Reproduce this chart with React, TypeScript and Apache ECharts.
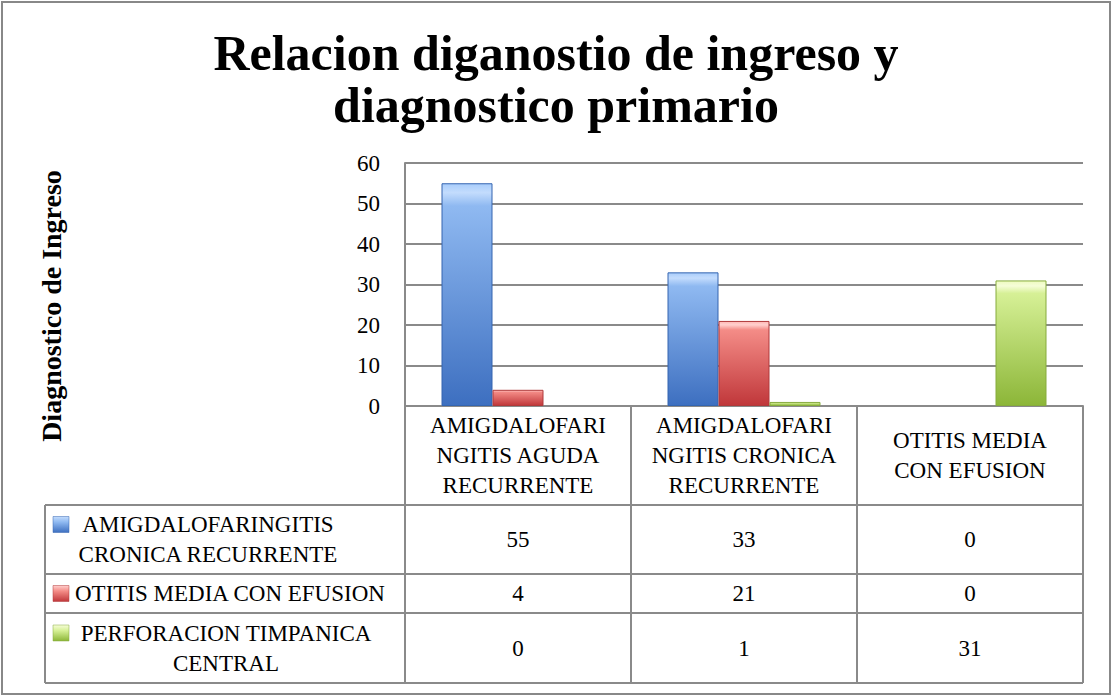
import React, { useEffect, useRef } from "react";
import * as echarts from "echarts";

const categories = [
  "AMIGDALOFARINGITIS AGUDA RECURRENTE",
  "AMIGDALOFARINGITIS CRONICA RECURRENTE",
  "OTITIS MEDIA CON EFUSION",
];
const categoryLabelLines = [
  "AMIGDALOFARI\nNGITIS AGUDA\nRECURRENTE",
  "AMIGDALOFARI\nNGITIS CRONICA\nRECURRENTE",
  "OTITIS MEDIA\nCON EFUSION",
];
const seriesNames = [
  "AMIGDALOFARINGITIS CRONICA RECURRENTE",
  "OTITIS MEDIA CON EFUSION",
  "PERFORACION TIMPANICA CENTRAL",
];
const seriesLabelLines = [
  "AMIGDALOFARINGITIS\nCRONICA RECURRENTE",
  "OTITIS MEDIA CON EFUSION",
  "PERFORACION TIMPANICA\nCENTRAL",
];
const cronicaValues = [55, 33, 0];
const otitisValues = [4, 21, 0];
const perforacionValues = [0, 1, 31];
const seriesValues = [cronicaValues, otitisValues, perforacionValues];
const yTicks = [0, 10, 20, 30, 40, 50, 60];

const titleText = "Relacion diganostio de ingreso y\ndiagnostico primario";
const yAxisTitle = "Diagnostico de Ingreso";

const FONT = "'Liberation Serif', 'Times New Roman', serif";
const GRID_COLOR = "#8a8a8a";

const gradients = [
  ["#a9cdfb", "#c3dcfd", "#8fb9f1", "#3d6fc0"],
  ["#ffb8b5", "#ffcfcd", "#f48c87", "#c0373a"],
  ["#eefbbf", "#f6fdd8", "#d6f096", "#8cb638"],
];
const borders = ["#3465b0", "#b0393a", "#86ab3c"];

function barColor(i: number) {
  const g = gradients[i];
  return new echarts.graphic.LinearGradient(0, 0, 0, 1, [
    { offset: 0, color: g[0] },
    { offset: 0.04, color: g[1] },
    { offset: 0.1, color: g[2] },
    { offset: 1, color: g[3] },
  ]);
}

// table layout
const TABLE_LEFT = 45;
const TABLE_RIGHT = 1083;
const AXIS_Y = 406;
const rowBounds = [505, 574, 613, 683];
const legendTextX = [208, 75, 226];
const legendAlign = ["center", "left", "center"];

export default function App() {
  const ref = useRef<HTMLDivElement>(null);

  useEffect(() => {
    if (!ref.current) return;
    const chart = echarts.init(ref.current, null, { renderer: "svg" });
    chart.setOption({
      animation: false,
      backgroundColor: "#ffffff",
      title: {
        text: titleText,
        left: "center",
        top: 22,
        textStyle: {
          fontFamily: FONT,
          fontWeight: "bold",
          fontSize: 50,
          lineHeight: 52,
          color: "#000",
        },
      },
      grid: { left: 405, right: 29, top: 163, bottom: 290, containLabel: false },
      xAxis: {
        type: "category",
        data: categories,
        axisLine: { show: true, lineStyle: { color: GRID_COLOR, width: 2 } },
        axisTick: {
          show: true,
          length: rowBounds[rowBounds.length - 1] - AXIS_Y,
          lineStyle: { color: GRID_COLOR, width: 2 },
        },
        axisLabel: {
          interval: 0,
          margin: 49,
          verticalAlign: "middle",
          lineHeight: 30,
          fontSize: 23,
          fontFamily: FONT,
          color: "#000",
          formatter: (_v: string, idx: number) => categoryLabelLines[idx],
        },
      },
      yAxis: {
        type: "value",
        min: yTicks[0],
        max: yTicks[yTicks.length - 1],
        interval: 10,
        axisLine: { show: true, lineStyle: { color: GRID_COLOR, width: 2 } },
        axisTick: { show: false },
        axisLabel: {
          margin: 25,
          fontSize: 23,
          fontFamily: FONT,
          color: "#000",
        },
        splitLine: { show: true, lineStyle: { color: GRID_COLOR, width: 2 } },
      },
      series: seriesNames.map((name, i) => ({
        name,
        type: "bar",
        data: seriesValues[i].map((v) => ({
          value: v,
          itemStyle: { borderWidth: v > 0 ? 1 : 0 },
        })),
        barWidth: 51,
        barGap: "0%",
        itemStyle: { color: barColor(i), borderColor: borders[i], borderWidth: 1 },
      })),
    });

    const colX = categories.map((c) => chart.convertToPixel({ xAxisIndex: 0 }, c) as number);
    const graphics: any[] = [];
    graphics.push({
      type: "rect",
      shape: { x: 2, y: 2, width: 1108, height: 692 },
      style: { fill: "none", stroke: "#888", lineWidth: 2 },
      silent: true,
    });
    graphics.push({
      type: "text",
      x: 51,
      y: 306,
      rotation: Math.PI / 2,
      style: {
        text: yAxisTitle,
        font: `bold 28px ${FONT}`,
        fill: "#000",
        align: "center",
        verticalAlign: "middle",
      },
    });
    rowBounds.forEach((y) => {
      graphics.push({
        type: "line",
        shape: { x1: TABLE_LEFT, y1: y, x2: TABLE_RIGHT, y2: y },
        style: { stroke: GRID_COLOR, lineWidth: 2 },
      });
    });
    graphics.push({
      type: "line",
      shape: { x1: TABLE_LEFT, y1: rowBounds[0], x2: TABLE_LEFT, y2: rowBounds[rowBounds.length - 1] },
      style: { stroke: GRID_COLOR, lineWidth: 2 },
    });
    seriesNames.forEach((_n, r) => {
      const top = rowBounds[r];
      const bottom = rowBounds[r + 1];
      const cy = (top + bottom) / 2;
      const nLines = seriesLabelLines[r].split("\n").length;
      const firstLineCy = cy - ((nLines - 1) * 30) / 2;
      const g = gradients[r];
      graphics.push({
        type: "rect",
        shape: { x: 53, y: firstLineCy - 8, width: 16, height: 16 },
        style: {
          fill: new echarts.graphic.LinearGradient(0, 0, 0, 1, [
            { offset: 0, color: g[1] },
            { offset: 0.35, color: g[2] },
            { offset: 1, color: g[3] },
          ]),
          stroke: borders[r],
          lineWidth: 0.5,
        },
      });
      graphics.push({
        type: "text",
        x: legendTextX[r],
        y: cy,
        style: {
          text: seriesLabelLines[r],
          font: `23px ${FONT}`,
          lineHeight: 30,
          fill: "#000",
          align: legendAlign[r],
          verticalAlign: "middle",
        },
      });
      seriesValues[r].forEach((v, c) => {
        graphics.push({
          type: "text",
          x: colX[c],
          y: cy,
          style: {
            text: String(v),
            font: `23px ${FONT}`,
            fill: "#000",
            align: "center",
            verticalAlign: "middle",
          },
        });
      });
    });
    chart.setOption({ graphic: { elements: graphics } });

    return () => chart.dispose();
  }, []);

  return (
    <div
      ref={ref}
      style={{ position: "fixed", left: 0, top: 0, width: 1112, height: 696 }}
    />
  );
}
